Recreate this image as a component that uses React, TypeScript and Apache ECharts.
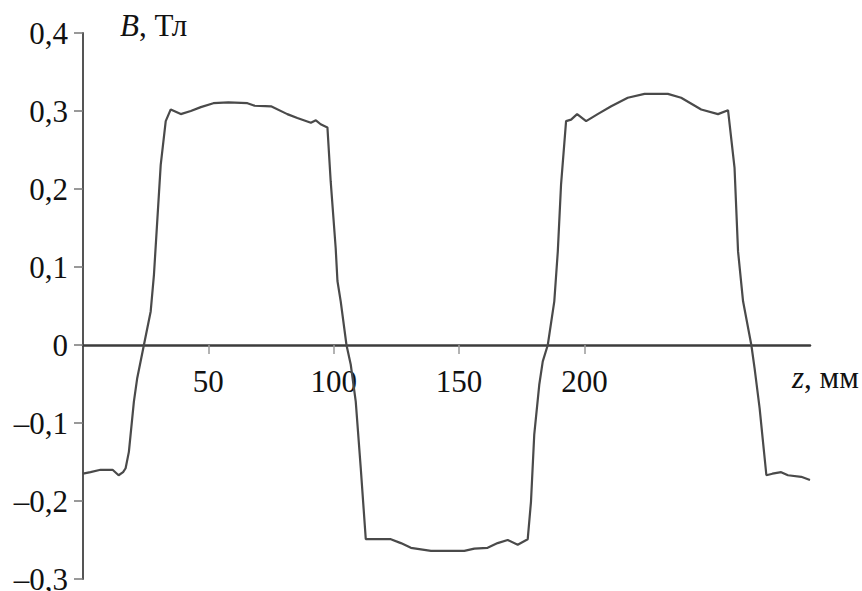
import React, { useEffect, useRef } from "react";
import * as echarts from "echarts";

// z, mm
const zValues = [
  0, 3, 7, 11.8, 14.2, 16, 17, 18.3, 20.3, 21.6, 24.3, 27, 28.3, 31, 33, 35, 37, 39, 43, 47,
  52, 58, 65.6, 68.2, 75, 81.5, 85.5, 90.9, 92.9, 94.8, 97.5, 98.8, 100.8, 101.5, 102.8, 105.1,
  106.8, 108.8, 110.8, 112.8, 122.8, 126.8, 130.8, 138.8, 152.1, 156.1, 161.4, 165.4, 169.4,
  173.4, 177.4, 178.7, 180, 182, 183.4, 185.4, 188, 189.4, 190.7, 192.7, 194.7, 197.1, 200.7,
  205.3, 210.7, 217.3, 224, 233.3, 238.6, 246.6, 253.3, 257.3, 259.9, 261.3, 263.3, 266.6,
  267.9, 269.9, 272.6, 275, 278.5, 281.2, 286.5, 290,
];
// B, T
const bValues = [
  -0.165, -0.163, -0.16, -0.16, -0.167, -0.163, -0.158, -0.137, -0.0725, -0.043, 0, 0.043, 0.09,
  0.231, 0.287, 0.302, 0.299, 0.296, 0.3, 0.305, 0.31, 0.311, 0.31, 0.307, 0.306, 0.296, 0.291,
  0.285, 0.288, 0.283, 0.279, 0.21, 0.124, 0.082, 0.056, 0, -0.025, -0.0725, -0.158, -0.249,
  -0.249, -0.254, -0.26, -0.264, -0.264, -0.261, -0.26, -0.254, -0.25, -0.256, -0.249, -0.201,
  -0.115, -0.051, -0.021, 0, 0.056, 0.12, 0.206, 0.287, 0.289, 0.296, 0.287, 0.296, 0.306,
  0.317, 0.322, 0.322, 0.317, 0.302, 0.296, 0.301, 0.227, 0.12, 0.056, 0, -0.03, -0.081,
  -0.167, -0.165, -0.163, -0.167, -0.169, -0.173,
];
const xTickValues = [50, 100, 150, 200];
const yMin = -0.3;
const yMax = 0.4;
const yStep = 0.1;
const xMin = 0;
const xMax = 290;

const FONT = "'Liberation Serif', 'Times New Roman', serif";
const GRID_TOP = 33;
const GRID_BOTTOM = 12;
const HEIGHT = 591;

export default function App() {
  const ref = useRef<HTMLDivElement>(null);
  useEffect(() => {
    if (!ref.current) return;
    const chart = echarts.init(ref.current, undefined, { renderer: "svg" });
    const data = zValues.map((z, i) => [z, bValues[i]]);
    const plotH = HEIGHT - GRID_TOP - GRID_BOTTOM;
    // distance from grid bottom up to the zero line
    const zeroOffset = (plotH * (0 - yMin)) / (yMax - yMin);
    chart.setOption({
      animation: false,
      backgroundColor: "#ffffff",
      grid: {
        left: 83,
        right: 52,
        top: GRID_TOP,
        bottom: GRID_BOTTOM,
        containLabel: false,
        outerBoundsMode: "none",
      },
      xAxis: {
        type: "value",
        min: xMin,
        max: xMax,
        interval: 50,
        position: "bottom",
        offset: -zeroOffset,
        axisLine: { show: true, onZero: false, lineStyle: { color: "#3c3c3c", width: 2.5 } },
        axisTick: {
          show: true,
          length: 9,
          customValues: xTickValues,
          lineStyle: { color: "#9a9a9a", width: 1.5 },
        },
        axisLabel: {
          show: true,
          customValues: xTickValues,
          margin: 21,
          color: "#111",
          fontFamily: FONT,
          fontSize: 31,
        },
        splitLine: { show: false },
      },
      yAxis: {
        type: "value",
        min: yMin,
        max: yMax,
        interval: yStep,
        axisLine: { show: true, onZero: false, lineStyle: { color: "#555555", width: 2 } },
        axisTick: { show: true, length: 9, lineStyle: { color: "#777777", width: 1.5 } },
        axisLabel: {
          margin: 15,
          color: "#111",
          fontFamily: FONT,
          fontSize: 31,
          formatter: (v: number) => {
            const r = Math.round(v * 10) / 10;
            if (r === 0) return "0";
            const s = Math.abs(r).toFixed(1).replace(".", ",");
            return r < 0 ? "\u2013" + s : s;
          },
        },
        splitLine: { show: false },
      },
      graphic: [
        {
          type: "text",
          left: 120,
          top: 10,
          style: {
            text: "{i|B}, Тл",
            fontFamily: FONT,
            fontSize: 31,
            fill: "#111",
            rich: { i: { fontStyle: "italic", fontFamily: FONT, fontSize: 31, fill: "#111" } },
          },
        },
        {
          type: "text",
          left: 792,
          top: 362,
          style: {
            text: "{i|z}, мм",
            fontFamily: FONT,
            fontSize: 31,
            fill: "#111",
            rich: { i: { fontStyle: "italic", fontFamily: FONT, fontSize: 31, fill: "#111" } },
          },
        },
      ],
      series: [
        {
          type: "line",
          data,
          showSymbol: false,
          symbol: "none",
          smooth: false,
          lineStyle: { color: "#4a4a4a", width: 2.2 },
          z: 3,
        },
      ],
    });
    return () => chart.dispose();
  }, []);
  return (
    <div
      ref={ref}
      style={{ position: "absolute", left: 0, top: 0, width: 862, height: 591 }}
    />
  );
}
